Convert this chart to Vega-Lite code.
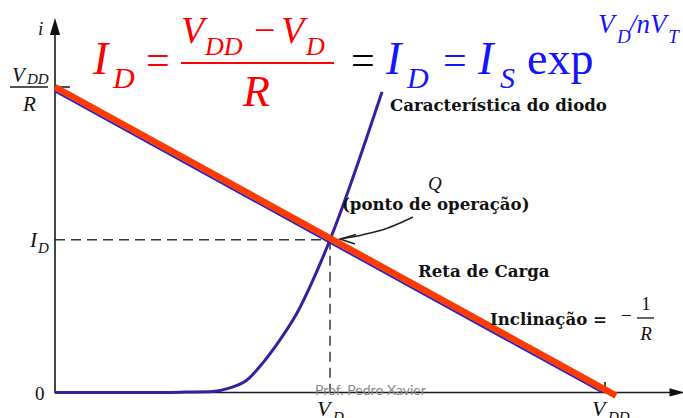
{
  "$schema": "https://vega.github.io/schema/vega-lite/v6.json",
  "width": 683,
  "height": 418,
  "autosize": {"type": "none"},
  "padding": 0,
  "background": "white",
  "config": {"view": {"stroke": null}},
  "encoding": {
    "x": {"field": "x", "type": "quantitative", "scale": {"domain": [-1, 11.418], "nice": false, "zero": false}, "axis": null},
    "y": {"field": "y", "type": "quantitative", "scale": {"domain": [-0.835, 12.848], "nice": false, "zero": false}, "axis": null}
  },
  "layer": [
    {
      "description": "dashed guides from the operating point Q to both axes",
      "data": {"values": [
        {"x": 0, "y": 5, "seg": "h", "k": 0}, {"x": 5, "y": 5, "seg": "h", "k": 1},
        {"x": 5, "y": 5, "seg": "v", "k": 0}, {"x": 5, "y": 0, "seg": "v", "k": 1}
      ]},
      "mark": {"type": "line", "stroke": "#2e3b37", "strokeWidth": 1.5, "strokeDash": [10, 6]},
      "encoding": {"detail": {"field": "seg"}, "order": {"field": "k"}}
    },
    {
      "description": "axes, tick marks and the V_DD/R fraction bar",
      "data": {"values": [
        {"x": 0, "y": -0.02, "seg": "yaxis", "k": 0}, {"x": 0, "y": 12.0, "seg": "yaxis", "k": 1},
        {"x": 0, "y": 0, "seg": "xaxis", "k": 0}, {"x": 11.3, "y": 0, "seg": "xaxis", "k": 1},
        {"x": 0, "y": 10, "seg": "tickI", "k": 0}, {"x": 0.27, "y": 10, "seg": "tickI", "k": 1},
        {"x": 10, "y": 0, "seg": "tickV", "k": 0}, {"x": 10, "y": 0.34, "seg": "tickV", "k": 1},
        {"x": -0.818, "y": 10, "seg": "frac", "k": 0}, {"x": -0.127, "y": 10, "seg": "frac", "k": 1}
      ]},
      "mark": {"type": "line", "stroke": "#1a1a1a", "strokeWidth": 1.6},
      "encoding": {"detail": {"field": "seg"}, "order": {"field": "k"}}
    },
    {
      "description": "arrowhead of the current axis",
      "data": {"values": [{"x": 0, "y": 11.98}]},
      "mark": {"type": "point", "filled": true, "shape": "M0,-1L0.6,1L-0.6,1Z", "size": 289, "color": "#111111", "opacity": 1}
    },
    {
      "description": "arrowhead of the voltage axis",
      "data": {"values": [{"x": 11.309, "y": 0}]},
      "mark": {"type": "point", "filled": true, "shape": "M1,0L-1,0.55L-1,-0.55Z", "size": 225, "color": "#111111", "opacity": 1}
    },
    {
      "description": "original load line",
      "data": {"values": [{"x": 0, "y": 9.853}, {"x": 9.95, "y": 0}]},
      "mark": {"type": "line", "stroke": "#2424c8", "strokeWidth": 2}
    },
    {
      "description": "diode characteristic i = Is exp(v / nVT)",
      "data": {"values": [
        {"x": 0, "y": 0}, {"x": 1.73, "y": 0}, {"x": 2.27, "y": 0.01}, {"x": 2.87, "y": 0.035},
        {"x": 3.18, "y": 0.15}, {"x": 3.49, "y": 0.41}, {"x": 3.78, "y": 0.97}, {"x": 4.09, "y": 1.72},
        {"x": 4.4, "y": 2.6}, {"x": 4.69, "y": 3.68}, {"x": 4.85, "y": 4.34}, {"x": 5.0, "y": 5.0},
        {"x": 5.945, "y": 9.84}
      ]},
      "mark": {"type": "line", "stroke": "#35209f", "strokeWidth": 3, "interpolate": "monotone"}
    },
    {
      "description": "load line (reta de carga)",
      "data": {"values": [{"x": 0, "y": 10}, {"x": 10.2, "y": -0.1}]},
      "mark": {"type": "line", "stroke": "#ff3a00", "strokeWidth": 6.5, "strokeCap": "butt"}
    },
    {
      "description": "curved pointer to Q",
      "data": {"values": [
        {"x": 6.509, "y": 5.745}, {"x": 6.273, "y": 5.548}, {"x": 6.0, "y": 5.352},
        {"x": 5.727, "y": 5.221}, {"x": 5.455, "y": 5.106}, {"x": 5.182, "y": 5.025}
      ]},
      "mark": {"type": "line", "stroke": "#222222", "strokeWidth": 1.5, "interpolate": "monotone"}
    },
    {
      "description": "open head of the pointer",
      "data": {"values": [
        {"x": 5.473, "y": 5.172, "k": 0}, {"x": 5.182, "y": 5.025, "k": 1}, {"x": 5.455, "y": 4.862, "k": 2}
      ]},
      "mark": {"type": "line", "stroke": "#222222", "strokeWidth": 1.5},
      "encoding": {"order": {"field": "k"}}
    },
    {
      "description": "equation fraction bar",
      "data": {"values": [
        {"x": 2.291, "y": 10.785, "k": 0}, {"x": 5.073, "y": 10.785, "k": 1}
      ]},
      "mark": {"type": "line", "stroke": "#ff0000", "strokeWidth": 2},
      "encoding": {"order": {"field": "k"}}
    },
    {
      "description": "slope fraction bar",
      "data": {"values": [
        {"x": 10.582, "y": 2.439, "k": 0}, {"x": 10.891, "y": 2.439, "k": 1}
      ]},
      "mark": {"type": "line", "stroke": "#111111", "strokeWidth": 1.3},
      "encoding": {"order": {"field": "k"}}
    },
    {
      "data": {"values": [{"x": 0.691, "y": 10.425, "t": "I"}]},
      "mark": {"type": "text", "align": "left", "baseline": "alphabetic", "font": "Liberation Serif", "fontStyle": "italic", "fontSize": 46, "color": "#ff0000"},
      "encoding": {"text": {"field": "t"}}
    },
    {
      "data": {"values": [{"x": 1.055, "y": 9.967, "t": "D"}]},
      "mark": {"type": "text", "align": "left", "baseline": "alphabetic", "font": "Liberation Serif", "fontStyle": "italic", "fontSize": 30, "color": "#ff0000"},
      "encoding": {"text": {"field": "t"}}
    },
    {
      "data": {"values": [{"x": 1.655, "y": 10.425, "t": "="}]},
      "mark": {"type": "text", "align": "left", "baseline": "alphabetic", "font": "Liberation Serif", "fontSize": 42, "color": "#ff0000"},
      "encoding": {"text": {"field": "t"}}
    },
    {
      "data": {"values": [{"x": 2.291, "y": 11.44, "t": "V"}, {"x": 4.109, "y": 11.44, "t": "V"}]},
      "mark": {"type": "text", "align": "left", "baseline": "alphabetic", "font": "Liberation Serif", "fontStyle": "italic", "fontSize": 38, "color": "#ff0000"},
      "encoding": {"text": {"field": "t"}}
    },
    {
      "data": {"values": [{"x": 2.727, "y": 11.047, "t": "DD"}, {"x": 4.564, "y": 11.047, "t": "D"}]},
      "mark": {"type": "text", "align": "left", "baseline": "alphabetic", "font": "Liberation Serif", "fontStyle": "italic", "fontSize": 26, "color": "#ff0000"},
      "encoding": {"text": {"field": "t"}}
    },
    {
      "data": {"values": [{"x": 3.618, "y": 11.44, "t": "−"}]},
      "mark": {"type": "text", "align": "left", "baseline": "alphabetic", "font": "Liberation Serif", "fontSize": 38, "color": "#ff0000"},
      "encoding": {"text": {"field": "t"}}
    },
    {
      "data": {"values": [{"x": 3.418, "y": 9.378, "t": "R"}]},
      "mark": {"type": "text", "align": "left", "baseline": "alphabetic", "font": "Liberation Serif", "fontStyle": "italic", "fontSize": 44, "color": "#ff0000"},
      "encoding": {"text": {"field": "t"}}
    },
    {
      "data": {"values": [{"x": 5.382, "y": 10.425, "t": "="}]},
      "mark": {"type": "text", "align": "left", "baseline": "alphabetic", "font": "Liberation Serif", "fontSize": 42, "color": "#000000"},
      "encoding": {"text": {"field": "t"}}
    },
    {
      "data": {"values": [{"x": 6.018, "y": 10.425, "t": "I"}, {"x": 7.691, "y": 10.425, "t": "I"}]},
      "mark": {"type": "text", "align": "left", "baseline": "alphabetic", "font": "Liberation Serif", "fontStyle": "italic", "fontSize": 46, "color": "#1414ff"},
      "encoding": {"text": {"field": "t"}}
    },
    {
      "data": {"values": [{"x": 6.4, "y": 9.967, "t": "D"}, {"x": 8.091, "y": 9.967, "t": "S"}]},
      "mark": {"type": "text", "align": "left", "baseline": "alphabetic", "font": "Liberation Serif", "fontStyle": "italic", "fontSize": 30, "color": "#1414ff"},
      "encoding": {"text": {"field": "t"}}
    },
    {
      "data": {"values": [{"x": 7.055, "y": 10.425, "t": "="}]},
      "mark": {"type": "text", "align": "left", "baseline": "alphabetic", "font": "Liberation Serif", "fontSize": 42, "color": "#1414ff"},
      "encoding": {"text": {"field": "t"}}
    },
    {
      "data": {"values": [{"x": 8.582, "y": 10.425, "t": "exp"}]},
      "mark": {"type": "text", "align": "left", "baseline": "alphabetic", "font": "Liberation Serif", "fontSize": 46, "color": "#1414ff"},
      "encoding": {"text": {"field": "t"}}
    },
    {
      "data": {"values": [{"x": 9.873, "y": 11.77, "t": "V"}, {"x": 10.436, "y": 11.77, "t": "/nV"}]},
      "mark": {"type": "text", "align": "left", "baseline": "alphabetic", "font": "Liberation Serif", "fontStyle": "italic", "fontSize": 27, "color": "#1414ff"},
      "encoding": {"text": {"field": "t"}}
    },
    {
      "data": {"values": [{"x": 10.22, "y": 11.44, "t": "D"}, {"x": 11.15, "y": 11.44, "t": "T"}]},
      "mark": {"type": "text", "align": "left", "baseline": "alphabetic", "font": "Liberation Serif", "fontStyle": "italic", "fontSize": 19, "color": "#1414ff"},
      "encoding": {"text": {"field": "t"}}
    },
    {
      "description": "bold annotations",
      "data": {"values": [
        {"x": 6.091, "y": 9.215, "t": "Característica do diodo"},
        {"x": 5.218, "y": 5.974, "t": "(ponto de operação)"},
        {"x": 6.6, "y": 3.781, "t": "Reta de Carga"},
        {"x": 7.909, "y": 2.21, "t": "Inclinação ="}
      ]},
      "mark": {"type": "text", "align": "left", "baseline": "alphabetic", "font": "DejaVu Serif", "fontWeight": "bold", "fontSize": 16.6, "color": "#111111"},
      "encoding": {"text": {"field": "t"}}
    },
    {
      "data": {"values": [{"x": 10.291, "y": 2.308, "t": "−"}, {"x": -0.364, "y": -0.245, "t": "0"}]},
      "mark": {"type": "text", "align": "left", "baseline": "alphabetic", "font": "Liberation Serif", "fontSize": 19, "color": "#111111"},
      "encoding": {"text": {"field": "t"}}
    },
    {
      "data": {"values": [{"x": 10.745, "y": 2.7, "t": "1"}]},
      "mark": {"type": "text", "align": "center", "baseline": "alphabetic", "font": "Liberation Serif", "fontSize": 18, "color": "#111111"},
      "encoding": {"text": {"field": "t"}}
    },
    {
      "data": {"values": [{"x": 10.745, "y": 1.719, "t": "R"}]},
      "mark": {"type": "text", "align": "center", "baseline": "alphabetic", "font": "Liberation Serif", "fontStyle": "italic", "fontSize": 19, "color": "#111111"},
      "encoding": {"text": {"field": "t"}}
    },
    {
      "data": {"values": [{"x": -0.309, "y": 11.702, "t": "i"}, {"x": 6.782, "y": 6.629, "t": "Q"}]},
      "mark": {"type": "text", "align": "left", "baseline": "alphabetic", "font": "Liberation Serif", "fontStyle": "italic", "fontSize": 19, "color": "#111111"},
      "encoding": {"text": {"field": "t"}}
    },
    {
      "data": {"values": [
        {"x": -0.782, "y": 10.164, "t": "V"}, {"x": -0.582, "y": 9.215, "t": "R"}, {"x": -0.455, "y": 4.763, "t": "I"}
      ]},
      "mark": {"type": "text", "align": "left", "baseline": "alphabetic", "font": "Liberation Serif", "fontStyle": "italic", "fontSize": 21, "color": "#111111"},
      "encoding": {"text": {"field": "t"}}
    },
    {
      "data": {"values": [{"x": 4.764, "y": -0.769, "t": "V"}, {"x": 9.764, "y": -0.769, "t": "V"}]},
      "mark": {"type": "text", "align": "left", "baseline": "alphabetic", "font": "Liberation Serif", "fontStyle": "italic", "fontSize": 22, "color": "#111111"},
      "encoding": {"text": {"field": "t"}}
    },
    {
      "data": {"values": [
        {"x": -0.509, "y": 10.098, "t": "DD"}, {"x": -0.309, "y": 4.566, "t": "D"},
        {"x": 5.055, "y": -0.966, "t": "D"}, {"x": 10.055, "y": -0.966, "t": "DD"}
      ]},
      "mark": {"type": "text", "align": "left", "baseline": "alphabetic", "font": "Liberation Serif", "fontStyle": "italic", "fontSize": 15, "color": "#111111"},
      "encoding": {"text": {"field": "t"}}
    },
    {
      "description": "author credit",
      "data": {"values": [{"x": 4.727, "y": -0.085, "t": "Prof. Pedro Xavier"}]},
      "mark": {"type": "text", "align": "left", "baseline": "alphabetic", "font": "Lato", "fontSize": 14, "color": "#8a8a8a"},
      "encoding": {"text": {"field": "t"}}
    }
  ]
}
